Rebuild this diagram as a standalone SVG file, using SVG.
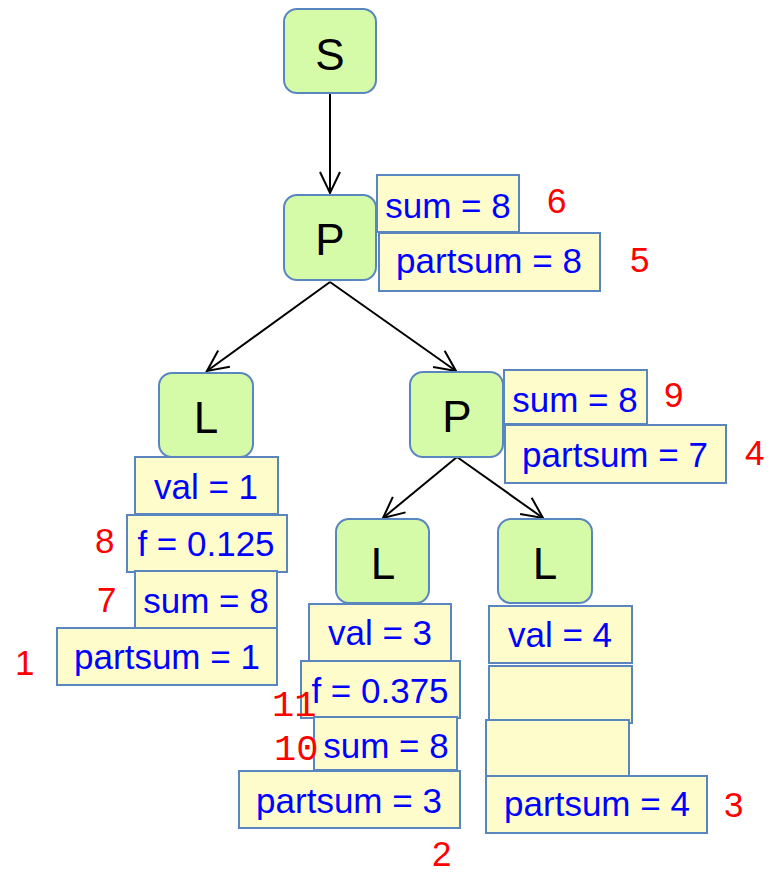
<svg xmlns="http://www.w3.org/2000/svg" width="773" height="872" viewBox="0 0 773 872">
<defs>
<marker id="arr" markerUnits="userSpaceOnUse" markerWidth="30" markerHeight="30" refX="22" refY="11" orient="auto">
<path d="M1,1 L22,11 L1,21" fill="none" stroke="#000" stroke-width="2"/>
</marker>
<style>
.node{fill:#d6fba8;stroke:#5a86c0;stroke-width:2}
.box{fill:#fffccc;stroke:#5a86c0;stroke-width:2}
.nl{font-family:"Liberation Sans",Arial,sans-serif;font-size:44px;fill:#000;text-anchor:middle}
.bt{font-family:"Liberation Sans",Arial,sans-serif;font-size:35px;fill:#0000ff;text-anchor:middle}
.rn{font-family:"Liberation Sans",Arial,sans-serif;font-size:35px;fill:#ff0000}
.rm{font-family:"Liberation Mono","DejaVu Sans Mono",monospace;font-size:37px;fill:#ff0000}
.ed{fill:none;stroke:#000;stroke-width:2}
</style>
</defs>
<rect width="773" height="872" fill="#fff"/>
<g id="connectors">
<line class="ed" x1="330" y1="93" x2="330" y2="193" marker-end="url(#arr)"/>
<line class="ed" x1="330" y1="282" x2="207" y2="371" marker-end="url(#arr)"/>
<line class="ed" x1="330" y1="282" x2="456" y2="371" marker-end="url(#arr)"/>
<line class="ed" x1="457" y1="457" x2="383" y2="518" marker-end="url(#arr)"/>
<line class="ed" x1="457" y1="457" x2="543" y2="518" marker-end="url(#arr)"/>
</g>
<g id="S">
<rect class="node" x="284" y="9" width="92" height="84" rx="13"/>
<text class="nl" x="330" y="70">S</text>
</g>
<g id="P1">
<rect class="node" x="284" y="195" width="92" height="85" rx="13"/>
<text class="nl" x="330" y="255">P</text>
<rect class="box" x="377" y="175" width="142" height="57"/>
<text class="bt" x="448" y="218">sum = 8</text>
<rect class="box" x="379" y="233" width="221" height="58"/>
<text class="bt" x="489" y="273">partsum = 8</text>
<text class="rn" x="547" y="213" font-size="31">6</text>
<text class="rn" x="630" y="272">5</text>
</g>
<g id="L1">
<rect class="node" x="159" y="373" width="94" height="84" rx="13"/>
<text class="nl" x="206" y="433">L</text>
<rect class="box" x="135" y="457" width="143" height="57"/>
<text class="bt" x="206" y="499">val = 1</text>
<rect class="box" x="127" y="515" width="160" height="57"/>
<text class="bt" x="206" y="556">f = 0.125</text>
<rect class="box" x="135" y="571" width="142" height="57"/>
<text class="bt" x="206" y="613">sum = 8</text>
<rect class="box" x="57" y="628" width="220" height="57"/>
<text class="bt" x="167" y="669">partsum = 1</text>
<text class="rn" x="95" y="553">8</text>
<text class="rn" x="97" y="612">7</text>
<text class="rn" x="15" y="675">1</text>
</g>
<g id="P2">
<rect class="node" x="410" y="372" width="93" height="85" rx="13"/>
<text class="nl" x="457" y="432">P</text>
<rect class="box" x="504" y="370" width="143" height="54"/>
<text class="bt" x="575" y="412">sum = 8</text>
<rect class="box" x="505" y="425" width="221" height="58"/>
<text class="bt" x="615" y="467">partsum = 7</text>
<text class="rn" x="664" y="407">9</text>
<text class="rn" x="745" y="465">4</text>
</g>
<g id="L2">
<rect class="node" x="336" y="519" width="93" height="84" rx="13"/>
<text class="nl" x="383" y="579">L</text>
<rect class="box" x="309" y="604" width="142" height="57"/>
<text class="bt" x="380" y="645">val = 3</text>
<rect class="box" x="301" y="661" width="159" height="57"/>
<text class="bt" x="380" y="703">f = 0.375</text>
<rect class="box" x="314" y="717" width="143" height="53"/>
<text class="bt" x="386" y="758">sum = 8</text>
<rect class="box" x="239" y="771" width="221" height="57"/>
<text class="bt" x="349" y="813">partsum = 3</text>
<text class="rm" x="272" y="716">11</text>
<text class="rm" x="274" y="760">10</text>
<text class="rn" x="432" y="866">2</text>
</g>
<g id="L3">
<rect class="node" x="498" y="519" width="94" height="84" rx="13"/>
<text class="nl" x="545" y="579">L</text>
<rect class="box" x="489" y="606" width="143" height="57"/>
<text class="bt" x="560" y="647">val = 4</text>
<rect class="box" x="489" y="666" width="143" height="57"/>
<rect class="box" x="486" y="720" width="143" height="56"/>
<rect class="box" x="486" y="776" width="221" height="57"/>
<text class="bt" x="597" y="816">partsum = 4</text>
<text class="rn" x="724" y="817">3</text>
</g>
</svg>
